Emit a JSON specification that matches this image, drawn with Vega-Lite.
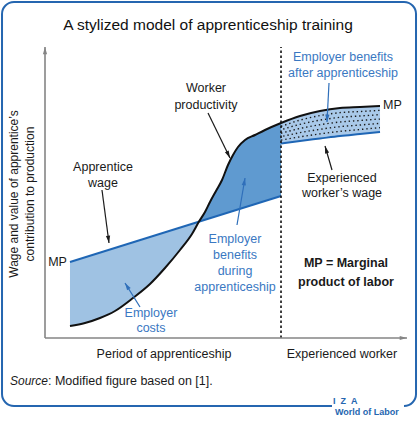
{
  "$schema": "https://vega.github.io/schema/vega-lite/v6.json",
  "width": 360,
  "height": 291,
  "autosize": {"type": "none"},
  "padding": {"left": 45, "top": 47, "right": 13, "bottom": 83},
  "background": "white",
  "config": {"view": {"stroke": null}},
  "datasets": {
    "frame": [{"x": -11.94, "x2": 103.06, "y": 115.46, "y2": -23.37}],
    "gap": [{"x": 79.72, "x2": 99.72, "y": -21.9, "y2": -24.9}],
    "fills": [
      {"part": "costs", "x": 6.94, "y": 4.12, "y2": 26.12},
      {"part": "costs", "x": 11.11, "y": 5.15, "y2": 27.73},
      {"part": "costs", "x": 15.28, "y": 6.87, "y2": 29.34},
      {"part": "costs", "x": 19.44, "y": 9.28, "y2": 30.96},
      {"part": "costs", "x": 24.44, "y": 13.75, "y2": 32.89},
      {"part": "costs", "x": 29.17, "y": 18.56, "y2": 34.71},
      {"part": "costs", "x": 33.33, "y": 24.05, "y2": 36.33},
      {"part": "costs", "x": 37.5, "y": 30.24, "y2": 37.94},
      {"part": "costs", "x": 40.83, "y": 35.74, "y2": 39.23},
      {"part": "costs", "x": 42.78, "y": 40.0, "y2": 39.98},
      {"part": "during", "x": 42.78, "y": 39.98, "y2": 40.0},
      {"part": "during", "x": 44.44, "y": 40.63, "y2": 43.3},
      {"part": "during", "x": 45.83, "y": 41.16, "y2": 46.74},
      {"part": "during", "x": 47.5, "y": 41.81, "y2": 50.52},
      {"part": "during", "x": 49.17, "y": 42.46, "y2": 54.3},
      {"part": "during", "x": 50.83, "y": 43.1, "y2": 59.45},
      {"part": "during", "x": 52.22, "y": 43.64, "y2": 62.89},
      {"part": "during", "x": 53.61, "y": 44.17, "y2": 65.64},
      {"part": "during", "x": 55.56, "y": 44.93, "y2": 68.04},
      {"part": "during", "x": 58.33, "y": 46.0, "y2": 69.76},
      {"part": "during", "x": 61.11, "y": 47.08, "y2": 71.48},
      {"part": "during", "x": 65.56, "y": 48.8, "y2": 73.88},
      {"part": "after", "x": 65.56, "y": 66.84, "y2": 73.88},
      {"part": "after", "x": 70.83, "y": 67.7, "y2": 76.29},
      {"part": "after", "x": 76.39, "y": 68.56, "y2": 78.01},
      {"part": "after", "x": 81.94, "y": 69.42, "y2": 79.04},
      {"part": "after", "x": 87.5, "y": 70.1, "y2": 79.38},
      {"part": "after", "x": 93.06, "y": 70.79, "y2": 79.73}
    ],
    "dots": [
      {"row": 1, "x": 65.56, "y": 68.01}, {"row": 1, "x": 70.83, "y": 69.13}, {"row": 1, "x": 76.39, "y": 70.14}, {"row": 1, "x": 81.94, "y": 71.02}, {"row": 1, "x": 87.5, "y": 71.65}, {"row": 1, "x": 93.06, "y": 72.28},
      {"row": 2, "x": 65.56, "y": 69.19}, {"row": 2, "x": 70.83, "y": 70.56}, {"row": 2, "x": 76.39, "y": 71.71}, {"row": 2, "x": 81.94, "y": 72.63}, {"row": 2, "x": 87.5, "y": 73.19}, {"row": 2, "x": 93.06, "y": 73.77},
      {"row": 3, "x": 65.56, "y": 70.36}, {"row": 3, "x": 70.83, "y": 72.0}, {"row": 3, "x": 76.39, "y": 73.29}, {"row": 3, "x": 81.94, "y": 74.23}, {"row": 3, "x": 87.5, "y": 74.74}, {"row": 3, "x": 93.06, "y": 75.26},
      {"row": 4, "x": 65.56, "y": 71.53}, {"row": 4, "x": 70.83, "y": 73.43}, {"row": 4, "x": 76.39, "y": 74.86}, {"row": 4, "x": 81.94, "y": 75.83}, {"row": 4, "x": 87.5, "y": 76.29}, {"row": 4, "x": 93.06, "y": 76.75},
      {"row": 5, "x": 65.56, "y": 72.71}, {"row": 5, "x": 70.83, "y": 74.86}, {"row": 5, "x": 76.39, "y": 76.44}, {"row": 5, "x": 81.94, "y": 77.44}, {"row": 5, "x": 87.5, "y": 77.83}, {"row": 5, "x": 93.06, "y": 78.24}
    ],
    "wage": [{"x": 6.94, "y": 26.12}, {"x": 65.56, "y": 48.8}],
    "expwage": [
      {"x": 65.56, "y": 66.84}, {"x": 70.83, "y": 67.7}, {"x": 76.39, "y": 68.56},
      {"x": 81.94, "y": 69.42}, {"x": 87.5, "y": 70.1}, {"x": 93.06, "y": 70.79}
    ],
    "productivity": [
      {"x": 6.94, "y": 4.12}, {"x": 11.11, "y": 5.15}, {"x": 15.28, "y": 6.87}, {"x": 19.44, "y": 9.28},
      {"x": 24.44, "y": 13.75}, {"x": 29.17, "y": 18.56}, {"x": 33.33, "y": 24.05}, {"x": 37.5, "y": 30.24},
      {"x": 40.83, "y": 35.74}, {"x": 42.78, "y": 40.0}, {"x": 44.44, "y": 43.3}, {"x": 45.83, "y": 46.74},
      {"x": 47.5, "y": 50.52}, {"x": 49.17, "y": 54.3}, {"x": 50.83, "y": 59.45}, {"x": 52.22, "y": 62.89},
      {"x": 53.61, "y": 65.64}, {"x": 55.56, "y": 68.04}, {"x": 58.33, "y": 69.76}, {"x": 61.11, "y": 71.48},
      {"x": 65.56, "y": 73.88}, {"x": 70.83, "y": 76.29}, {"x": 76.39, "y": 78.01}, {"x": 81.94, "y": 79.04},
      {"x": 87.5, "y": 79.38}, {"x": 93.06, "y": 79.73}
    ],
    "divider": [{"x": 65.56, "y": 0}, {"x": 65.56, "y": 100}],
    "axes": [
      {"ax": "y", "x": 0, "y": 0}, {"ax": "y", "x": 0, "y": 100},
      {"ax": "x", "x": 0, "y": 0}, {"ax": "x", "x": 100.56, "y": 0}
    ],
    "shafts": [
      {"id": "a1", "tone": "dark", "x": 15.83, "y": 50.86}, {"id": "a1", "tone": "dark", "x": 17.78, "y": 32.65},
      {"id": "a2", "tone": "dark", "x": 45.28, "y": 77.32}, {"id": "a2", "tone": "dark", "x": 51.39, "y": 61.86},
      {"id": "a3", "tone": "blue", "x": 78.89, "y": 87.63}, {"id": "a3", "tone": "blue", "x": 78.33, "y": 74.23},
      {"id": "a4", "tone": "dark", "x": 79.72, "y": 57.73}, {"id": "a4", "tone": "dark", "x": 77.78, "y": 65.98},
      {"id": "a5", "tone": "blue", "x": 53.33, "y": 38.83}, {"id": "a5", "tone": "blue", "x": 55.56, "y": 54.98},
      {"id": "a6", "tone": "blue", "x": 26.39, "y": 10.65}, {"id": "a6", "tone": "blue", "x": 22.22, "y": 18.9}
    ],
    "heads": [
      {"tone": "dark", "x": 17.78, "y": 32.65, "ang": 172.5},
      {"tone": "dark", "x": 51.39, "y": 61.86, "ang": 153.9},
      {"tone": "blue", "x": 78.33, "y": 74.23, "ang": 183},
      {"tone": "dark", "x": 77.78, "y": 65.98, "ang": 343.7},
      {"tone": "blue", "x": 55.56, "y": 54.98, "ang": 9.7},
      {"tone": "blue", "x": 22.22, "y": 18.9, "ang": 328},
      {"tone": "axis", "x": 0, "y": 100, "ang": 0},
      {"tone": "axis", "x": 100.56, "y": 0, "ang": 90}
    ],
    "labels": [
      {"tone": "dark", "x": 44.72, "y": 85.91, "text": "Worker"},
      {"tone": "dark", "x": 44.72, "y": 80.07, "text": "productivity"},
      {"tone": "dark", "x": 16.11, "y": 58.76, "text": "Apprentice"},
      {"tone": "dark", "x": 16.11, "y": 53.26, "text": "wage"},
      {"tone": "blue", "x": 82.78, "y": 96.56, "text": "Employer benefits"},
      {"tone": "blue", "x": 82.78, "y": 91.07, "text": "after apprenticeship"},
      {"tone": "dark", "x": 82.5, "y": 54.98, "text": "Experienced"},
      {"tone": "dark", "x": 82.5, "y": 49.83, "text": "worker’s wage"},
      {"tone": "blue", "x": 52.78, "y": 34.02, "text": "Employer"},
      {"tone": "blue", "x": 52.78, "y": 28.52, "text": "benefits"},
      {"tone": "blue", "x": 52.78, "y": 23.02, "text": "during"},
      {"tone": "blue", "x": 52.78, "y": 17.53, "text": "apprenticeship"},
      {"tone": "blue", "x": 29.44, "y": 8.59, "text": "Employer"},
      {"tone": "blue", "x": 29.44, "y": 3.44, "text": "costs"},
      {"tone": "dark", "x": 33.06, "y": -5.5, "text": "Period of apprenticeship"},
      {"tone": "dark", "x": 82.5, "y": -5.5, "text": "Experienced worker"}
    ],
    "mpLeft": [{"x": 6.1, "y": 26.12, "text": "MP"}],
    "mpRight": [{"x": 93.89, "y": 80.07, "text": "MP"}],
    "legendNote": [
      {"x": 83.61, "y": 25.77, "text": "MP = Marginal"},
      {"x": 83.61, "y": 19.24, "text": "product of labor"}
    ],
    "title": [{"x": 45.28, "y": 107.56, "text": "A stylized model of apprenticeship training"}],
    "ytitle": [
      {"x": -8.61, "y": 49.48, "text": "Wage and value of apprentice’s"},
      {"x": -4.17, "y": 49.48, "text": "contribution to production"}
    ],
    "sourceA": [{"x": -9.72, "y": -14.78, "text": "Source"}],
    "sourceB": [{"x": 0.83, "y": -14.78, "text": ": Modified figure based on [1]."}],
    "logo": [
      {"x": 80.0, "y": -21.65, "text": "I\u00a0\u00a0Z\u00a0\u00a0A"},
      {"x": 80.56, "y": -25.43, "text": "World of Labor"}
    ]
  },
  "encoding": {
    "x": {"field": "x", "type": "quantitative", "scale": {"domain": [0, 100], "nice": false, "zero": false}, "axis": null},
    "y": {"field": "y", "type": "quantitative", "scale": {"domain": [0, 100], "nice": false, "zero": false}, "axis": null}
  },
  "layer": [
    {
      "data": {"name": "frame"},
      "mark": {"type": "rect", "fill": "white", "stroke": "#2566b0", "strokeWidth": 2, "cornerRadius": 12},
      "encoding": {"x2": {"field": "x2"}, "y2": {"field": "y2"}}
    },
    {
      "data": {"name": "gap"},
      "mark": {"type": "rect", "fill": "white", "strokeWidth": 0},
      "encoding": {"x2": {"field": "x2"}, "y2": {"field": "y2"}}
    },
    {
      "data": {"name": "fills"},
      "mark": {"type": "area", "interpolate": "monotone"},
      "encoding": {
        "y2": {"field": "y2"},
        "color": {"field": "part", "type": "nominal", "scale": {"domain": ["costs", "during", "after"], "range": ["#9fc2e3", "#5f9ad0", "#a9c9e9"]}, "legend": null}
      }
    },
    {
      "data": {"name": "dots"},
      "transform": [{"filter": "datum.row % 2 == 1"}],
      "mark": {"type": "line", "interpolate": "monotone", "color": "#1a1a1a", "strokeWidth": 1.4, "strokeDash": [1.4, 2.9]},
      "encoding": {"detail": {"field": "row"}}
    },
    {
      "data": {"name": "dots"},
      "transform": [{"filter": "datum.row % 2 == 0"}],
      "mark": {"type": "line", "interpolate": "monotone", "color": "#1a1a1a", "strokeWidth": 1.4, "strokeDash": [1.4, 2.9], "strokeDashOffset": 2.1},
      "encoding": {"detail": {"field": "row"}}
    },
    {
      "data": {"name": "wage"},
      "mark": {"type": "line", "color": "#1f66b5", "strokeWidth": 2},
      "encoding": {}
    },
    {
      "data": {"name": "expwage"},
      "mark": {"type": "line", "interpolate": "monotone", "color": "#1f66b5", "strokeWidth": 2},
      "encoding": {}
    },
    {
      "data": {"name": "productivity"},
      "mark": {"type": "line", "interpolate": "monotone", "color": "#111111", "strokeWidth": 2},
      "encoding": {}
    },
    {
      "data": {"name": "divider"},
      "mark": {"type": "line", "color": "#111111", "strokeWidth": 1.6, "strokeDash": [2.5, 2.5]},
      "encoding": {}
    },
    {
      "data": {"name": "axes"},
      "mark": {"type": "line", "color": "#858585", "strokeWidth": 1.6},
      "encoding": {"detail": {"field": "ax"}}
    },
    {
      "data": {"name": "shafts"},
      "mark": {"type": "line", "strokeWidth": 1.2},
      "encoding": {
        "detail": {"field": "id"},
        "color": {"field": "tone", "type": "nominal", "scale": {"domain": ["dark", "blue", "axis"], "range": ["#1a1a1a", "#2f6fba", "#858585"]}, "legend": null}
      }
    },
    {
      "data": {"name": "heads"},
      "mark": {"type": "point", "shape": "M0,0L0.6,2.1L-0.6,2.1Z", "filled": true, "size": 49, "opacity": 1, "strokeWidth": 0},
      "encoding": {
        "angle": {"field": "ang", "type": "quantitative", "scale": null},
        "color": {"field": "tone", "type": "nominal", "scale": {"domain": ["dark", "blue", "axis"], "range": ["#1a1a1a", "#2f6fba", "#858585"]}, "legend": null}
      }
    },
    {
      "data": {"name": "labels"},
      "mark": {"type": "text", "font": "Liberation Sans", "fontSize": 12.5, "align": "center", "baseline": "middle"},
      "encoding": {
        "text": {"field": "text"},
        "color": {"field": "tone", "type": "nominal", "scale": {"domain": ["dark", "blue"], "range": ["#1a1a1a", "#3a78c2"]}, "legend": null}
      }
    },
    {
      "data": {"name": "mpLeft"},
      "mark": {"type": "text", "font": "Liberation Sans", "fontSize": 12.5, "align": "right", "baseline": "middle", "color": "#1a1a1a"},
      "encoding": {"text": {"field": "text"}}
    },
    {
      "data": {"name": "mpRight"},
      "mark": {"type": "text", "font": "Liberation Sans", "fontSize": 12.5, "align": "left", "baseline": "middle", "color": "#1a1a1a"},
      "encoding": {"text": {"field": "text"}}
    },
    {
      "data": {"name": "legendNote"},
      "mark": {"type": "text", "font": "Liberation Sans", "fontSize": 12.5, "fontWeight": "bold", "align": "center", "baseline": "middle", "color": "#1a1a1a"},
      "encoding": {"text": {"field": "text"}}
    },
    {
      "data": {"name": "title"},
      "mark": {"type": "text", "font": "Liberation Sans", "fontSize": 15.5, "align": "center", "baseline": "middle", "color": "#111111"},
      "encoding": {"text": {"field": "text"}}
    },
    {
      "data": {"name": "ytitle"},
      "mark": {"type": "text", "font": "Liberation Sans", "fontSize": 12, "align": "center", "baseline": "middle", "angle": 270, "color": "#1a1a1a"},
      "encoding": {"text": {"field": "text"}}
    },
    {
      "data": {"name": "sourceA"},
      "mark": {"type": "text", "font": "Liberation Sans", "fontSize": 12, "fontStyle": "italic", "align": "left", "baseline": "middle", "color": "#1a1a1a"},
      "encoding": {"text": {"field": "text"}}
    },
    {
      "data": {"name": "sourceB"},
      "mark": {"type": "text", "font": "Liberation Sans", "fontSize": 12.5, "align": "left", "baseline": "middle", "color": "#1a1a1a"},
      "encoding": {"text": {"field": "text"}}
    },
    {
      "data": {"name": "logo"},
      "mark": {"type": "text", "font": "Liberation Sans", "fontSize": 9, "fontWeight": "bold", "align": "left", "baseline": "middle", "color": "#2566b0"},
      "encoding": {"text": {"field": "text"}}
    }
  ],
  "resolve": {"scale": {"color": "independent"}}
}
